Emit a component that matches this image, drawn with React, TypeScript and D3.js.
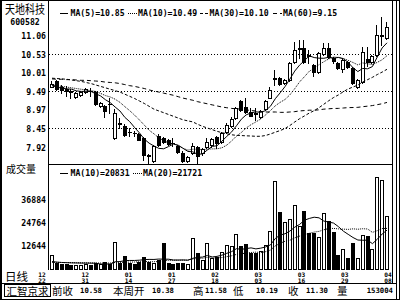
import React from "react";
import * as d3 from "d3";

// ---------- data ----------
const stockName = "天地科技";
const stockCode = "600582";
const dateTop = ["12", "12", "01", "01", "02", "03", "03", "03", "04"];
const dateBottom = ["22", "31", "14", "27", "18", "03", "16", "29", "08"];
const priceTicks = [11.06, 10.53, 10.01, 9.49, 8.97, 8.45, 7.92];
const priceGrid = [10.53, 9.49, 8.45];
const volumeTicks = [36884, 24764, 12644];
const priceMaLabels = ["MA(5)=10.85", "MA(10)=10.49", "MA(30)=10.10", "MA(60)=9.15"];
const volMaLabels = ["MA(10)=20831", "MA(20)=21721"];
const statusLabels = ["前收", "本周开", "高", "低", "收", "量"];
const statusValues = ["10.58", "10.38", "11.58", "10.19", "11.30", "153004"];

const opens = [9.61, 9.77, 9.61, 9.55, 9.48, 9.33, 9.38, 9.46, 9.50, 9.47,
  9.08, 9.07, 9.13, 8.16, 8.58, 8.51, 8.35, 8.31, 8.28, 8.16,
  7.69, 7.53, 8.23, 8.16, 8.11, 8.04, 7.94, 7.76, 7.53, 7.74,
  7.92, 7.74, 7.91, 7.96, 8.20, 8.07, 8.33, 8.51, 8.72, 9.21,
  9.05, 8.91, 8.87, 8.77, 8.98, 9.30, 9.85, 9.86, 9.71, 9.80,
  10.31, 10.68, 10.69, 10.49, 10.22, 10.03, 10.52, 10.69, 10.41, 10.27,
  10.11, 10.31, 10.13, 9.61, 9.75, 10.38, 10.31, 10.50, 11.05, 10.99];
const highs = [9.77, 9.80, 9.66, 9.62, 9.54, 9.47, 9.50, 9.58, 9.57, 9.50,
  9.17, 9.10, 9.28, 8.98, 8.73, 8.55, 8.45, 8.36, 8.31, 8.20,
  7.72, 7.97, 8.27, 8.20, 8.14, 8.17, 7.97, 7.80, 7.66, 8.04,
  7.95, 7.90, 8.17, 8.17, 8.23, 8.34, 8.58, 8.77, 9.04, 9.24,
  9.29, 9.01, 9.01, 8.97, 9.24, 9.61, 10.08, 9.89, 9.83, 10.30,
  10.88, 10.92, 10.92, 10.64, 10.25, 10.58, 10.83, 10.83, 10.45, 10.30,
  10.41, 10.34, 10.16, 9.83, 10.74, 10.74, 10.50, 11.35, 11.56, 11.42];
const lows = [9.60, 9.52, 9.44, 9.36, 9.30, 9.30, 9.35, 9.44, 9.35, 9.10,
  9.05, 8.77, 8.87, 8.14, 8.45, 8.22, 8.23, 8.22, 8.10, 7.55,
  7.44, 7.50, 7.94, 8.04, 7.98, 7.94, 7.75, 7.50, 7.50, 7.72,
  7.43, 7.70, 7.88, 7.93, 7.89, 8.04, 8.30, 8.48, 8.69, 8.93,
  8.88, 8.78, 8.67, 8.74, 8.96, 9.28, 9.66, 9.65, 9.68, 9.77,
  10.28, 10.41, 10.28, 10.28, 9.92, 10.00, 10.49, 10.42, 10.28, 10.11,
  10.03, 10.14, 9.68, 9.58, 9.72, 10.19, 10.28, 10.47, 10.78, 10.96];
const closes = [9.68, 9.55, 9.52, 9.50, 9.46, 9.44, 9.47, 9.54, 9.49, 9.12,
  9.14, 8.94, 9.12, 8.88, 8.56, 8.25, 8.34, 8.30, 8.12, 7.69,
  7.67, 7.94, 7.97, 8.06, 8.00, 8.02, 7.78, 7.53, 7.63, 7.94,
  7.66, 7.86, 8.07, 8.13, 8.04, 8.30, 8.53, 8.70, 9.00, 8.96,
  8.91, 8.80, 8.85, 8.93, 9.21, 9.52, 9.86, 9.68, 9.80, 10.27,
  10.64, 10.70, 10.31, 10.47, 10.03, 10.55, 10.69, 10.45, 10.34, 10.14,
  10.36, 10.17, 9.71, 9.80, 10.58, 10.31, 10.48, 11.06, 11.07, 11.30];
const volumes = [7600, 3300, 3000, 2800, 2600, 2500, 2400, 3000, 2600, 3500,
  2800, 3800, 3000, 14700, 3600, 7100, 3500, 3000, 4100, 6400,
  4000, 3600, 5000, 14100, 3500, 3000, 3200, 3500, 2800, 16400,
  8900, 5000, 13800, 5900, 6700, 9400, 12900, 12400, 18500, 12400,
  13400, 8500, 8500, 9900, 12900, 20300, 46800, 30500, 25200, 26500,
  34000, 22900, 30800, 19100, 19400, 17000, 29600, 25700, 19600, 7600,
  10600, 5900, 14100, 5900, 18000, 17700, 11000, 48900, 47200, 28200];

// moving-average values before a full window exists
const ma5Head = [9.64, 9.60, 9.57, 9.55];
const ma10Head = [9.66, 9.64, 9.62, 9.60, 9.58, 9.56, 9.54, 9.52, 9.50];
const ma30Head = [9.85, 9.84, 9.83, 9.82, 9.80, 9.78, 9.76, 9.73, 9.70, 9.66,
  9.62, 9.58, 9.54, 9.50, 9.46, 9.40, 9.34, 9.28, 9.21, 9.14,
  9.06, 8.98, 8.93, 8.88, 8.83, 8.78, 8.73, 8.68, 8.65];
const ma60Head = [9.83, 9.82, 9.82, 9.81, 9.81, 9.80, 9.79, 9.79, 9.78, 9.77,
  9.76, 9.74, 9.73, 9.72, 9.70, 9.67, 9.64, 9.62, 9.59, 9.56,
  9.52, 9.49, 9.46, 9.43, 9.40, 9.37, 9.33, 9.29, 9.26, 9.23,
  9.19, 9.16, 9.13, 9.10, 9.07, 9.04, 9.02, 9.00, 8.99, 8.98,
  8.96, 8.94, 8.93, 8.91, 8.90, 8.90, 8.90, 8.89, 8.89, 8.90,
  8.91, 8.93, 8.94, 8.95, 8.95, 8.96, 8.98, 8.99, 9.00];
const volMa10Head = [4200, 3900, 3700, 3600, 3500, 3450, 3400, 3380, 3350];
const volMa20Head = [3800, 3750, 3700, 3650, 3600, 3550, 3500, 3480, 3450, 3420,
  3400, 3380, 3400, 3700, 3750, 3850, 3900, 3950, 4050];

function movingAvg(values: number[], n: number, head: number[]): number[] {
  return values.map((_, i) =>
    i < n - 1 ? head[i] : (d3.mean(values.slice(i - n + 1, i + 1)) as number)
  );
}

const MONO = "'DejaVu Sans Mono', monospace";
const CJK = "'Noto Sans CJK SC', sans-serif";

export default function App() {
  const n = closes.length;
  const x = d3.scaleLinear().domain([0, n - 1]).range([52, 387]);
  const y = d3.scaleLinear().domain([7.92, 11.06]).range([146.86, 35.14]);
  const yv = d3.scaleLinear().domain([0, 36884]).range([269.5, 199.5]);
  const dateX = d3.scaleLinear().domain([0, dateTop.length - 1]).range([42, 388]);

  const ma5 = movingAvg(closes, 5, ma5Head);
  const ma10 = movingAvg(closes, 10, ma10Head);
  const ma30 = movingAvg(closes, 30, ma30Head);
  const ma60 = movingAvg(closes, 60, ma60Head);
  const vma10 = movingAvg(volumes, 10, volMa10Head);
  const vma20 = movingAvg(volumes, 20, volMa20Head);

  const priceLine = d3.line<number>().x((_, i) => x(i)).y((d) => y(d));
  const volLine = d3.line<number>().x((_, i) => x(i)).y((d) => yv(d));

  const priceStyles = [
    { data: ma5, dash: undefined },
    { data: ma10, dash: "1,1" },
    { data: ma30, dash: "3,2" },
    { data: ma60, dash: "4,3" },
  ];
  const legendPos = [
    { s: 60, e: 68, t: 70.5 },
    { s: 128, e: 137, t: 138 },
    { s: 200, e: 208, t: 209.5 },
    { s: 273, e: 282, t: 283 },
  ];
  const volStyles = [
    { data: vma10, dash: undefined },
    { data: vma20, dash: "1,1" },
  ];
  const volLegendPos = [
    { s: 60, e: 68, t: 70.5 },
    { s: 133, e: 142, t: 143 },
  ];
  const statusLabelX = [52, 113, 193, 233, 288, 337];
  const statusValueX = [102, 174, 227, 278, 328, 393];

  return (
    <svg
      width={400}
      height={300}
      style={{ position: "fixed", left: 0, top: 0, background: "#fff" }}
    >
      <defs>
        <clipPath id="pclip">
          <rect x={49} y={15} width={343} height={149} />
        </clipPath>
        <clipPath id="vclip">
          <rect x={49} y={176} width={343} height={94} />
        </clipPath>
      </defs>
      <rect x={0} y={0} width={400} height={300} fill="#fff" />

      {/* frame */}
      <g stroke="#000" fill="none" shapeRendering="crispEdges">
        <rect x={0.5} y={0.5} width={399} height={299} />
        <line x1={1.5} x2={1.5} y1={0} y2={300} />
        <line x1={48.5} x2={48.5} y1={0} y2={270} />
        <line x1={392.5} x2={392.5} y1={0} y2={283} />
        <line x1={396.5} x2={396.5} y1={0} y2={300} />
        <line x1={48} x2={393} y1={164.5} y2={164.5} />
        <line x1={0} x2={397} y1={283.5} y2={283.5} />
        <rect x={4.5} y={284.5} width={46} height={12} />
      </g>

      {/* price grid */}
      <g stroke="#000" strokeDasharray="1,2" shapeRendering="crispEdges">
        {priceGrid.map((p) => (
          <line key={p} x1={49} x2={392} y1={Math.round(y(p)) + 0.5} y2={Math.round(y(p)) + 0.5} />
        ))}
      </g>

      {/* left labels */}
      <text x={25} y={8.5} textAnchor="middle" dominantBaseline="central" fontFamily={CJK}
        fontSize={12} textLength={40} lengthAdjust="spacingAndGlyphs">{stockName}</text>
      <text x={25} y={21.5} textAnchor="middle" dominantBaseline="central" fontFamily={MONO}
        fontWeight="bold" fontSize={8.2}>{stockCode}</text>
      {priceTicks.map((p) => (
        <text key={p} x={46} y={y(p) + 0.7} textAnchor="end" dominantBaseline="central"
          fontFamily={MONO} fontWeight="bold" fontSize={8.2}>{p.toFixed(2)}</text>
      ))}
      <text x={6} y={168} dominantBaseline="central" fontFamily={CJK} fontSize={10}>成交量</text>
      {volumeTicks.map((v) => (
        <text key={v} x={46} y={yv(v) + 0.5} textAnchor="end" dominantBaseline="central"
          fontFamily={MONO} fontWeight="bold" fontSize={8.2}>{v}</text>
      ))}
      <text x={5} y={276} dominantBaseline="central" fontFamily={CJK} fontSize={11.5}
        textLength={23} lengthAdjust="spacingAndGlyphs">日线</text>

      {/* price legend */}
      {priceMaLabels.map((t, k) => (
        <g key={t}>
          <line x1={legendPos[k].s} x2={legendPos[k].e} y1={13.5} y2={13.5} stroke="#000"
            strokeDasharray={priceStyles[k].dash} shapeRendering="crispEdges" />
          <text x={legendPos[k].t} y={13.2} dominantBaseline="central" fontFamily={MONO}
            fontWeight="bold" fontSize={8.2}>{t}</text>
        </g>
      ))}

      {/* candles */}
      <g shapeRendering="crispEdges">
        {closes.map((c, i) => {
          const cx = Math.round(x(i));
          const o = opens[i];
          const up = c >= o;
          const top = Math.round(y(Math.max(o, c)));
          const bot = Math.round(y(Math.min(o, c)));
          return (
            <g key={i}>
              <line x1={cx - 0.5} x2={cx - 0.5} y1={Math.round(y(highs[i]))} y2={Math.round(y(lows[i])) + 1}
                stroke="#000" />
              {up ? (
                <rect x={cx - 1.5} y={top + 0.5} width={3} height={Math.max(1, bot - top)}
                  fill="#fff" stroke="#000" />
              ) : (
                <rect x={cx - 2} y={top} width={4} height={Math.max(1, bot - top + 1)} fill="#000" />
              )}
            </g>
          );
        })}
      </g>

      {/* price MAs */}
      <g clipPath="url(#pclip)" fill="none" stroke="#000" strokeWidth={1}>
        {priceStyles.map((s, k) => (
          <path key={k} d={priceLine(s.data) || ""} strokeDasharray={s.dash} />
        ))}
      </g>

      {/* volume legend */}
      {volMaLabels.map((t, k) => (
        <g key={t}>
          <line x1={volLegendPos[k].s} x2={volLegendPos[k].e} y1={173} y2={173} stroke="#000"
            strokeDasharray={volStyles[k].dash} shapeRendering="crispEdges" />
          <text x={volLegendPos[k].t} y={172.7} dominantBaseline="central" fontFamily={MONO}
            fontWeight="bold" fontSize={8.2}>{t}</text>
        </g>
      ))}

      {/* volume bars */}
      <g shapeRendering="crispEdges">
        {volumes.map((v, i) => {
          const cx = Math.round(x(i));
          const up = closes[i] >= opens[i];
          const top = Math.round(yv(v));
          const base = 269;
          return up ? (
            <rect key={i} x={cx - 1.5} y={top + 0.5} width={3} height={Math.max(1, base - top)}
              fill="#fff" stroke="#000" />
          ) : (
            <rect key={i} x={cx - 2} y={top} width={4} height={Math.max(1, base - top + 1)} fill="#000" />
          );
        })}
      </g>
      <g clipPath="url(#vclip)" fill="none" stroke="#000">
        {volStyles.map((s, k) => (
          <path key={k} d={volLine(s.data) || ""} strokeDasharray={s.dash} />
        ))}
      </g>

      {/* dates */}
      {dateTop.map((m, k) => (
        <g key={k} fontFamily={MONO} fontWeight="bold" fontSize={6.2} textAnchor="middle">
          <text x={dateX(k)} y={274.3} dominantBaseline="central">{m}</text>
          <text x={dateX(k)} y={280.3} dominantBaseline="central">{dateBottom[k]}</text>
        </g>
      ))}

      {/* status bar */}
      <text x={27.5} y={290.5} textAnchor="middle" dominantBaseline="central" fontFamily={CJK}
        fontSize={11} textLength={42} lengthAdjust="spacingAndGlyphs">汇智京求</text>
      {statusLabels.map((t, k) => (
        <text key={t} x={statusLabelX[k]} y={290.5} dominantBaseline="central" fontFamily={CJK}
          fontSize={10.5}>{t}</text>
      ))}
      {statusValues.map((t, k) => (
        <text key={k} x={statusValueX[k]} y={290.8} textAnchor="end" dominantBaseline="central"
          fontFamily={MONO} fontWeight="bold" fontSize={7.3}>{t}</text>
      ))}
    </svg>
  );
}
